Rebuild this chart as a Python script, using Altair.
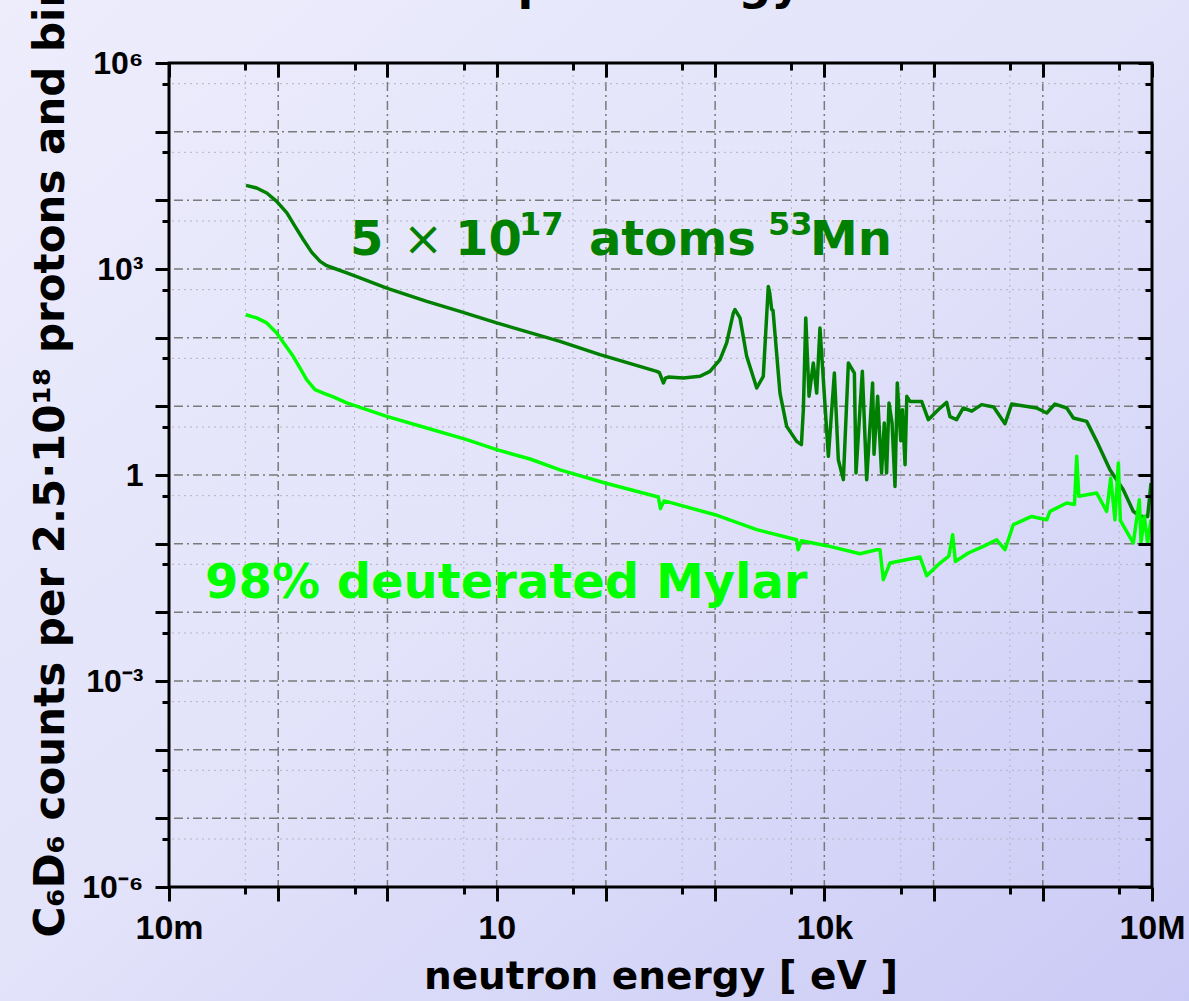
import math
import altair as alt
import pandas as pd

# ---------------- data ----------------
dark_energy = [0.0507, 0.0635, 0.0785, 0.0968, 0.120, 0.1426, 0.170, 0.2028, 0.242, 0.278,
               0.319, 0.424, 0.561, 0.984, 2.29, 4.61,
               10.0, 38.0, 88.3, 292, 309, 336, 351, 373, 512, 728,
               897, 1109, 1276, 1469, 1521, 1690, 1945, 2404, 2761, 3069,
               3162, 3296, 3388, 3926, 4519, 5585, 6166, 6427, 6761, 7244,
               7925, 8511, 9120, 10890, 12360, 13430, 14930, 16600, 18840, 19500,
               22280, 24430, 27670, 28510, 30760, 33420, 35400, 37150, 39080, 41690,
               44360, 46560, 50120, 51880, 54830, 56890, 60810, 77800, 89540, 110400,
               131800, 141300, 162600, 187100, 223900, 275400, 354800, 450800, 518800, 879000,
               1.087e6, 1.294e6, 1.656e6, 1.905e6, 2.523e6, 3.119e6, 4.121e6, 5.458e6, 6.745e6, 7.762e6,
               9.12e6, 9.795e6]
dark_counts = [16500, 15100, 12800, 9660, 6550, 4180, 2670, 1746, 1290, 1117,
               1035, 875, 740, 528, 337, 242,
               164, 88.3, 56.5, 32.3, 30.9, 21.9, 25.7, 26.7, 25.9, 27.4,
               32.3, 47.8, 83.8, 229, 256, 194, 53.5, 18.5, 27.4, 558,
               448, 256, 251, 15.6, 5.11, 3.09, 2.77, 8.93, 194, 14.0,
               42.8, 15.6, 138, 1.87, 30.5, 1.67, 0.855, 42.8, 30.5, 1.07,
               32.3, 0.855, 21.9, 2.0, 14.0, 1.07, 5.71, 1.07, 11.2, 5.71,
               0.682, 21.9, 3.16, 8.93, 1.41, 14.0, 11.8, 11.8, 6.40, 8.93,
               11.4, 7.08, 6.40, 9.46, 8.51, 10.6, 9.77, 5.58, 10.8, 9.46,
               8.0, 10.8, 9.46, 6.76, 6.04, 3.09, 1.19, 0.611, 0.295, 0.249,
               0.249, 0.766]

light_energy = [0.0504, 0.0635, 0.0785, 0.0968, 0.1153, 0.137, 0.158, 0.182, 0.217, 0.259,
                0.319, 0.424, 0.984, 2.29, 5.32,
                10.0, 20.2, 38.0, 98.2, 302, 316, 339, 386, 998, 2404,
                5585, 5754, 6166, 10500, 21230, 30130, 32360, 34670, 39900, 75160,
                86500, 114600, 138000, 149600, 158500, 208000, 285800, 378400, 450800, 537000,
                790700, 1.087e6, 1.164e6, 1.656e6, 1.95e6, 2.046e6, 2.138e6, 3.119e6, 3.846e6, 4.188e6,
                4.581e6, 4.92e6, 5.13e6, 6.745e6, 7.656e6, 7.943e6, 8.511e6, 9.12e6, 9.795e6]
light_counts = [216, 194, 164, 117, 79.1, 53.5, 36.2, 24.4, 17.5, 15.6,
                13.7, 11.2, 7.14, 4.84, 3.27,
                2.34, 1.71, 1.19, 0.766, 0.479, 0.324, 0.417, 0.399, 0.264, 0.160,
                0.114, 0.0817, 0.110, 0.0935, 0.0714, 0.0817, 0.0813, 0.0299, 0.0522, 0.0640,
                0.0342, 0.0522, 0.0661, 0.135, 0.0550, 0.0731, 0.0912, 0.114, 0.0817, 0.189,
                0.249, 0.223, 0.295, 0.391, 0.372, 1.87, 0.49, 0.546, 0.295, 0.904,
                0.223, 1.50, 0.219, 0.102, 0.436, 0.105, 0.249, 0.102, 0.223]

x_domain = [1e-2, 1e7]
y_domain = [1e-6, 1e6]
x_major = [1e-2, 1e-1, 1, 10, 100, 1e3, 1e4, 1e5, 1e6, 1e7]
x_minor = [5e-2, 0.5, 5, 50, 500, 5e3, 5e4, 5e5, 5e6]
x_label_values = [1e-2, 10, 1e4, 1e7]
x_label_texts = ["10m", "10", "10k", "10M"]
y_major = [1e-6, 1e-5, 1e-4, 1e-3, 1e-2, 1e-1, 1, 10, 100, 1e3, 1e4, 1e5, 1e6]
y_minor = [5e-6, 5e-5, 5e-4, 5e-3, 5e-2, 0.5, 5, 50, 500, 5e3, 5e4, 5e5]
y_label_values = [1e-6, 1e-3, 1, 1e3, 1e6]
y_label_texts = ["10⁻⁶", "10⁻³", "1", "10³", "10⁶"]

# annotation "5 × 10^17 atoms ^53Mn", split into pieces (text, energy, counts, font size)
ann_dark_pieces = ["5", "10", "17", "atoms", "53", "Mn"]
ann_dark_energy = [0.454, 4.16, 16.0, 70.0, 3048, 7396]
ann_dark_counts = [1614, 1614, 3162, 1614, 3162, 1614]
ann_dark_sizes = [48, 48, 32, 48, 32, 48]
ann_times = ["×"]
ann_times_pos = [1.39, 1614]
ann_light_text = ["98% deuterated Mylar"]
ann_light_pos = [0.0214, 0.0163]
top_title = ["Counts per energy bin"]

x_title = "neutron energy [ eV ]"
y_title = "C₆D₆ counts per 2.5·10¹⁸ protons and bin"

DARK = "#008000"
LIGHT = "#00FF00"

# ---------------- layout ----------------
W, H = 983, 824
PAD = {"left": 169, "top": 63, "right": 37, "bottom": 114}


def label_expr(values, texts):
    parts = [f"abs(log(datum.value)/LN10 - ({round(math.log10(v))})) < 0.01 ? '{t}'"
             for v, t in zip(values, texts)]
    return " : ".join(parts) + " : ''"


xscale = alt.Scale(type="log", domain=x_domain, nice=False)
yscale = alt.Scale(type="log", domain=y_domain, nice=False)

common = dict(grid=False, domain=False, tickColor="black", tickWidth=3, zindex=1,
              labelColor="black", labelFont="Liberation Sans", labelFontWeight="bold",
              labelFlush=False)

ax_bottom_major = alt.Axis(orient="bottom", values=x_major, tickSize=14, labelPadding=10,
                           labelFontSize=34, labelExpr=label_expr(x_label_values, x_label_texts),
                           title=x_title, titleFont="DejaVu Sans", titleFontWeight="bold",
                           titleFontSize=39, titleColor="black", titleBaseline="alphabetic",
                           titleY=101, labelOverlap=False, **common)
ax_bottom_minor = alt.Axis(orient="bottom", values=x_minor, tickSize=7, labels=False,
                           title=None, **common)
ax_left_major = alt.Axis(orient="left", values=y_major, tickSize=14, labelPadding=12,
                         labelFontSize=32, labelExpr=label_expr(y_label_values, y_label_texts),
                         title=y_title, titleFont="DejaVu Sans", titleFontWeight="bold",
                         titleFontSize=42, titleColor="black", titleAngle=270,
                         titleBaseline="alphabetic", titleAlign="left",
                         titleX=-106, titleY=874, labelOverlap=False, **common)
ax_left_minor = alt.Axis(orient="left", values=y_minor, tickSize=7, labels=False,
                         title=None, **common)
ax_top_major = alt.Axis(orient="top", values=x_major, tickSize=14, offset=-14, labels=False,
                        title=None, **common)
ax_top_minor = alt.Axis(orient="top", values=x_minor, tickSize=7, offset=-7, labels=False,
                        title=None, **common)
ax_right_major = alt.Axis(orient="right", values=y_major, tickSize=14, offset=-14, labels=False,
                          title=None, **common)
ax_right_minor = alt.Axis(orient="right", values=y_minor, tickSize=7, offset=-7, labels=False,
                          title=None, **common)

gradient = alt.LinearGradient(
    gradient="linear",
    stops=[alt.GradientStop(color="#EDEDFC", offset=0),
           alt.GradientStop(color="#E2E2FA", offset=0.5),
           alt.GradientStop(color="#CACAF6", offset=1)],
    x1=0, y1=0, x2=1, y2=1,
)

one = pd.DataFrame({"a": [0]})

bg = alt.Chart(one).mark_rect(fill=gradient).encode(
    x=alt.value(-PAD["left"]), x2=alt.value(W + PAD["right"]),
    y=alt.value(-PAD["top"]), y2=alt.value(H + PAD["bottom"]),
)

major_style = dict(color="#7A7A7A", strokeWidth=1.5, strokeDash=[9, 4, 2, 4])
minor_style = dict(color="#B4B4C4", strokeWidth=1, strokeDash=[2, 4])

vmaj = alt.Chart(pd.DataFrame({"v": x_major})).mark_rule(**major_style).encode(
    x=alt.X("v:Q", scale=xscale, axis=ax_bottom_major))
vmin = alt.Chart(pd.DataFrame({"v": x_minor})).mark_rule(**minor_style).encode(
    x=alt.X("v:Q", scale=xscale, axis=ax_bottom_minor))
hmaj = alt.Chart(pd.DataFrame({"v": y_major})).mark_rule(**major_style).encode(
    y=alt.Y("v:Q", scale=yscale, axis=ax_left_major))
hmin = alt.Chart(pd.DataFrame({"v": y_minor})).mark_rule(**minor_style).encode(
    y=alt.Y("v:Q", scale=yscale, axis=ax_left_minor))

df_dark = pd.DataFrame({"E": dark_energy, "C": dark_counts})
df_light = pd.DataFrame({"E": light_energy, "C": light_counts})

dark = alt.Chart(df_dark).mark_line(color=DARK, strokeWidth=3.5, strokeJoin="round").encode(
    x=alt.X("E:Q", scale=xscale, axis=ax_top_major),
    y=alt.Y("C:Q", scale=yscale, axis=ax_right_major))
light = alt.Chart(df_light).mark_line(color=LIGHT, strokeWidth=3.5, strokeJoin="round").encode(
    x=alt.X("E:Q", scale=xscale, axis=ax_top_minor),
    y=alt.Y("C:Q", scale=yscale, axis=ax_right_minor))

ann_font = dict(font="DejaVu Sans", fontWeight="bold", align="left", baseline="alphabetic")

df_ann1 = pd.DataFrame({"t": ann_dark_pieces, "E": ann_dark_energy,
                        "C": ann_dark_counts, "s": ann_dark_sizes})
ann1 = alt.Chart(df_ann1).mark_text(color=DARK, **ann_font).encode(
    x=alt.X("E:Q", scale=xscale, axis=None), y=alt.Y("C:Q", scale=yscale, axis=None),
    size=alt.Size("s:Q", scale=None, legend=None), text="t:N")
ann1x = alt.Chart(pd.DataFrame({"t": ann_times, "E": [ann_times_pos[0]], "C": [ann_times_pos[1]]})
                  ).mark_text(color=DARK, font="DejaVu Sans", fontWeight="normal", fontSize=48,
                              align="left", baseline="alphabetic").encode(
    x=alt.X("E:Q", scale=xscale, axis=None), y=alt.Y("C:Q", scale=yscale, axis=None), text="t:N")
ann2 = alt.Chart(pd.DataFrame({"t": ann_light_text, "E": [ann_light_pos[0]], "C": [ann_light_pos[1]]})
                 ).mark_text(color=LIGHT, fontSize=48, **ann_font).encode(
    x=alt.X("E:Q", scale=xscale, axis=None), y=alt.Y("C:Q", scale=yscale, axis=None), text="t:N")

frame = alt.Chart(pd.DataFrame({"x0": [x_domain[0]], "x1": [x_domain[1]],
                                "y0": [y_domain[0]], "y1": [y_domain[1]]})).mark_rect(
    fillOpacity=0, stroke="black", strokeWidth=3).encode(
    x=alt.X("x0:Q", scale=xscale, axis=None), x2="x1:Q",
    y=alt.Y("y0:Q", scale=yscale, axis=None), y2="y1:Q")

ttl = alt.Chart(pd.DataFrame({"t": top_title})).mark_text(
    font="DejaVu Sans", fontWeight="bold", fontSize=46, align="center",
    baseline="alphabetic", color="black").encode(
    x=alt.value(441), y=alt.value(-64), text="t:N")

chart = alt.layer(bg, vmin, vmaj, hmin, hmaj, dark, light, ann1, ann1x, ann2, frame, ttl
                  ).resolve_axis(
    x="independent", y="independent"
).properties(
    width=W, height=H,
    autosize=alt.AutoSizeParams(type="none"),
    padding=PAD,
).configure_view(stroke=None).configure(background="#E9E9FA")

chart.save("out.html", embed_options={"renderer": "svg", "actions": False})
